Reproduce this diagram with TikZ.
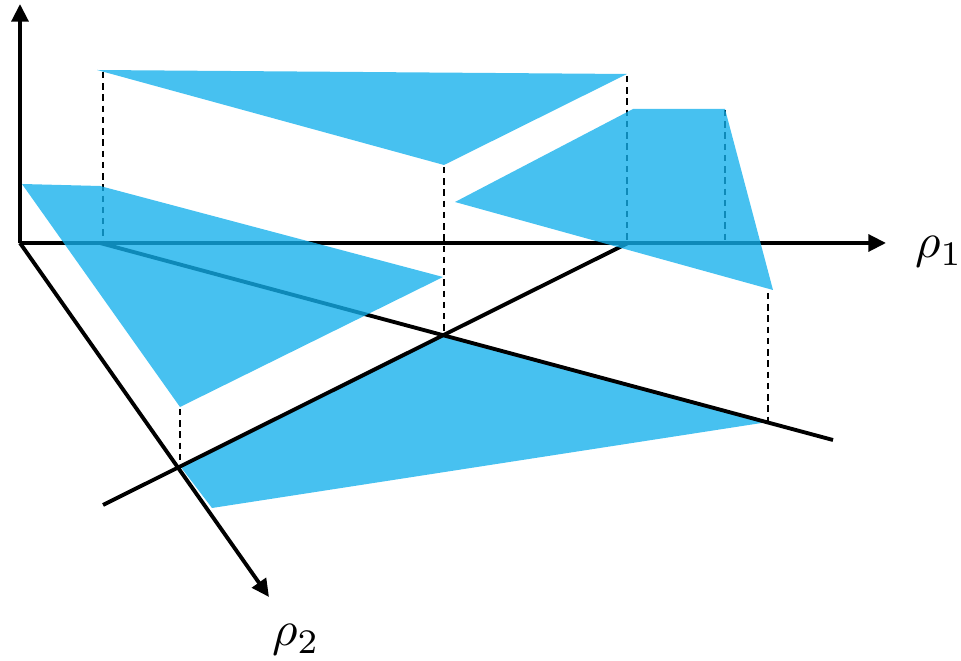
\documentclass[tikz,border=0pt]{standalone}
\usepackage{tikz}
\usetikzlibrary{positioning, calc, arrows.meta}
\definecolor{azzurro}{RGB}{19,176,236}
\tikzset{
    asse/.style={line width=2.2pt, -{Triangle[length=10pt,width=9.5pt]}},
    retta/.style={line width=2.2pt},
    proiezione/.style={line width=1.3pt, dash pattern=on 3.6pt off 2.8pt},
    piano/.style={fill=azzurro, fill opacity=0.78, draw=none},
    etichetta/.style={scale=2.8, inner sep=0pt}
}

\begin{document}
\begin{tikzpicture}[x=0.02cm, y=-0.02cm]
        \useasboundingbox (0,0) rectangle (961,661);
        % punti
        \coordinate (O) at (20,243);
        \coordinate (Ztop) at (20,4);
        \coordinate (Xend) at (886,243);
        \coordinate (Yend) at (269,597);
        \coordinate (Aa) at (100,243);
        \coordinate (Ab) at (833,440);
        \coordinate (Ba) at (103,505);
        \coordinate (Bb) at (628,243);
        % vertici del piano in basso
        \coordinate (q1) at (180,466);
        \coordinate (q2) at (444,335);
        \coordinate (q3) at (768,422);
        \coordinate (q4) at (212,508);
        % vertici dei piani in alto
        \coordinate (t1) at (97,70);
        \coordinate (t2) at (627,74);
        \coordinate (t3) at (444,165);
        \coordinate (r1) at (455,202);
        \coordinate (r2) at (633,109);
        \coordinate (r3) at (725,109);
        \coordinate (r4) at (773,290);
        \coordinate (l1) at (22,184);
        \coordinate (l2) at (100,186);
        \coordinate (l3) at (443,277);
        \coordinate (l4) at (180,407);
        % piedi delle proiezioni
        \coordinate (d1) at (103,72);
        \coordinate (d1b) at (103,243);
        \coordinate (d2) at (627,76);
        \coordinate (d2b) at (627,243);
        \coordinate (d3) at (725,110);
        \coordinate (d3b) at (725,243);
        \coordinate (d4) at (768,293);
        \coordinate (d5) at (180,409);
        \coordinate (d6) at (444,167);
        %piano in basso
        \fill[piano] (q1) -- (q2) -- (q3) -- (q4) -- cycle;
        % disegno assi
        \draw[asse] (O) -- (Ztop);
        \draw[asse] (O) -- (Xend);
        \draw[asse] (O) -- (Yend);
        % rette nel piano
        \draw[retta] (Aa) -- (Ab);
        \draw[retta] (Ba) -- (Bb);
        %proiezioni tratteggiate
        \draw[proiezione] (d1) -- (d1b);
        \draw[proiezione] (d6) -- (q2);
        \draw[proiezione] (d2) -- (d2b);
        \draw[proiezione] (d3) -- (d3b);
        \draw[proiezione] (d4) -- (q3);
        \draw[proiezione] (d5) -- (q1);
        %piani in alto
        \fill[piano] (t1) -- (t2) -- (t3) -- cycle;
        \fill[piano] (r1) -- (r2) -- (r3) -- (r4) -- cycle;
        \fill[piano] (l1) -- (l2) -- (l3) -- (l4) -- cycle;
        % etichette
        \node[etichetta] (rho1) at (939,252) {$\rho_1$};
        \node[etichetta] (rho2) at (296,640) {$\rho_2$};
    \end{tikzpicture}
\end{document}
